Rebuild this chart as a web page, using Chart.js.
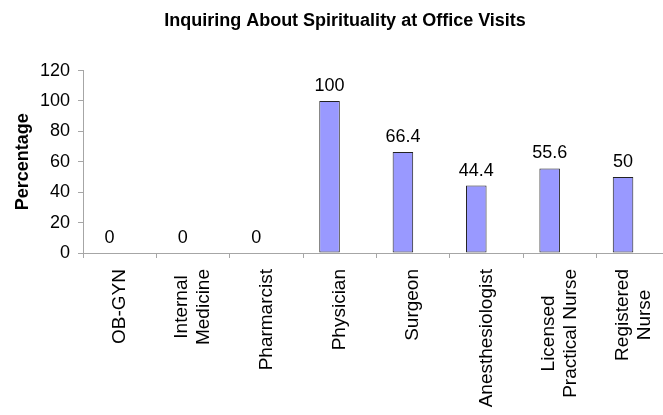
<!DOCTYPE html>
<html>
<head>
<meta charset="utf-8">
<script src="https://cdn.jsdelivr.net/npm/chart.js@4/dist/chart.umd.min.js"></script>
<style>
  html, body { margin: 0; padding: 0; background: #fff; overflow: hidden; }
  #wrap { width: 663px; height: 415px; overflow: hidden; }
</style>
</head>
<body>
<div id="wrap"><canvas id="chart" width="690" height="415"></canvas></div>
<script>
// data
const categories = [
  "OB-GYN", ["Internal", "Medicine"], "Pharmarcist", "Physician",
  "Surgeon", "Anesthesiologist", ["Licensed", "Practical Nurse"], ["Registered", "Nurse"]
];
const percentages = [0, 0, 0, 100, 66.4, 44.4, 55.6, 50];
const emptySeries = [null, null, null, null, null, null, null, null];
const yTicks = [0, 20, 40, 60, 80, 100, 120];

const axisGray = "#a6a6a6";
const font = "'Liberation Sans', Arial, sans-serif";

// value labels above bars
const barLabels = {
  id: "barLabels",
  afterDatasetsDraw(chart) {
    const ctx = chart.ctx;
    const meta = chart.getDatasetMeta(0);
    ctx.save();
    ctx.font = "18px " + font;
    ctx.fillStyle = "#000";
    ctx.textAlign = "center";
    ctx.textBaseline = "alphabetic";
    meta.data.forEach((bar, i) => {
      ctx.fillText(String(percentages[i]), bar.x, bar.y - 10);
    });
    ctx.restore();
  }
};

// vertical category labels, lines centred on each other like the original
const xLabels = {
  id: "xLabels",
  afterDraw(chart) {
    const ctx = chart.ctx;
    const xs = chart.scales.x;
    const top = chart.chartArea.bottom + 16;
    const lh = 22;
    ctx.save();
    ctx.font = "19px " + font;
    ctx.fillStyle = "#000";
    ctx.textAlign = "center";
    ctx.textBaseline = "middle";
    categories.forEach((lab, i) => {
      const lines = Array.isArray(lab) ? lab : [lab];
      const w = Math.max(...lines.map(l => ctx.measureText(l).width));
      const cx = xs.getPixelForTick(i);
      lines.forEach((line, j) => {
        const lx = cx + (j - (lines.length - 1) / 2) * lh;
        ctx.save();
        ctx.translate(lx, top + w / 2);
        ctx.rotate(-Math.PI / 2);
        ctx.fillText(line, 0, 0);
        ctx.restore();
      });
    });
    ctx.restore();
  }
};

new Chart(document.getElementById("chart"), {
  type: "bar",
  data: {
    labels: categories,
    datasets: [
      {
        data: percentages,
        backgroundColor: "#9999ff",
        borderColor: "#222",
        borderWidth: 1,
        borderSkipped: false,
        barPercentage: 1.0,
        categoryPercentage: 0.56
      },
      {
        data: emptySeries,
        backgroundColor: "rgba(0,0,0,0)",
        barPercentage: 1.0,
        categoryPercentage: 0.56
      }
    ]
  },
  options: {
    responsive: false,
    animation: false,
    layout: { padding: 0 },
    plugins: {
      legend: { display: false },
      tooltip: { enabled: false },
      title: {
        display: true,
        text: "Inquiring About Spirituality at Office Visits",
        color: "#000",
        font: { family: font, size: 18, weight: "bold" },
        padding: { top: 10, bottom: 39 }
      }
    },
    scales: {
      x: {
        grid: { drawOnChartArea: false, drawTicks: true, tickLength: 5, color: axisGray, offset: true },
        border: { display: true, color: axisGray },
        ticks: { display: false, autoSkip: false },
        afterFit(scale) {
          scale.height = 162;
          scale.paddingLeft = 0;
          scale.paddingRight = 20;
        }
      },
      y: {
        min: 0,
        max: 120,
        afterBuildTicks(scale) { scale.ticks = yTicks.map(v => ({ value: v })); },
        grid: { drawOnChartArea: false, drawTicks: true, tickLength: 5, color: axisGray },
        border: { display: true, color: axisGray },
        ticks: { color: "#000", font: { family: font, size: 18 }, padding: 8 },
        title: {
          display: true,
          text: "Percentage",
          color: "#000",
          font: { family: font, size: 18, weight: "bold" },
          padding: { top: 12, bottom: 0 }
        },
        afterFit(scale) { scale.width = 83; }
      }
    }
  },
  plugins: [barLabels, xLabels]
});
</script>
</body>
</html>
